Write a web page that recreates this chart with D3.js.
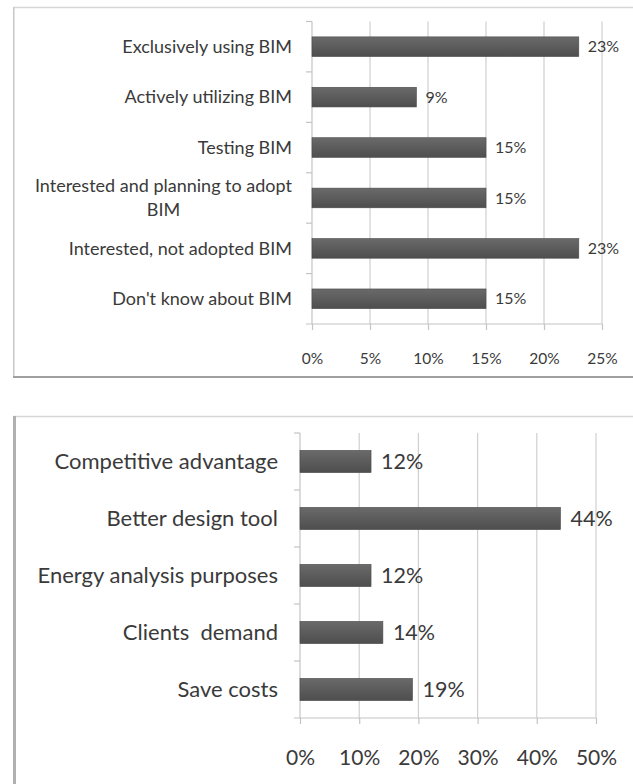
<!DOCTYPE html>
<html>
<head>
<meta charset="utf-8">
<script src="https://cdn.jsdelivr.net/npm/d3@7"></script>
<style>
  html, body { margin: 0; padding: 0; background: #fff; }
  svg { display: block; }
  text { font-family: Lato, "Open Sans", sans-serif; fill: #3a3a3a; white-space: pre; }
</style>
</head>
<body>
<svg id="chart" width="633" height="784"></svg>
<script>
// ---------- DATA ----------
const topCategories = [
  "Exclusively using BIM",
  "Actively utilizing BIM",
  "Testing BIM",
  "Interested and planning to adopt\nBIM",
  "Interested, not adopted BIM",
  "Don't know about BIM"
];
const topValues = [23, 9, 15, 15, 23, 15];
const topTicks = [0, 5, 10, 15, 20, 25];

const bottomCategories = [
  "Competitive advantage",
  "Better design tool",
  "Energy analysis purposes",
  "Clients  demand",
  "Save costs"
];
const bottomValues = [12, 44, 12, 14, 19];
const bottomTicks = [0, 10, 20, 30, 40, 50];

// ---------- SETUP ----------
const svg = d3.select("#chart");
const defs = svg.append("defs");
const grad = defs.append("linearGradient").attr("id", "barGrad")
  .attr("x1", 0).attr("y1", 0).attr("x2", 0).attr("y2", 1);
grad.append("stop").attr("offset", "0%").attr("stop-color", "#6a6a6a");
grad.append("stop").attr("offset", "50%").attr("stop-color", "#5c5c5c");
grad.append("stop").attr("offset", "100%").attr("stop-color", "#4e4e4e");

// Frames
function frame(y0, y1, leftW, leftColor, bottomColor) {
  const g = svg.append("g");
  g.append("line").attr("x1", 13).attr("x2", 633).attr("y1", y0 + 0.5).attr("y2", y0 + 0.5)
    .attr("stroke", "#d6d6d6").attr("stroke-width", 1.5);
  g.append("line").attr("x1", 13 + leftW / 2).attr("x2", 13 + leftW / 2).attr("y1", y0).attr("y2", y1)
    .attr("stroke", leftColor).attr("stroke-width", leftW);
  if (bottomColor) {
    g.append("line").attr("x1", 13).attr("x2", 633).attr("y1", y1).attr("y2", y1)
      .attr("stroke", bottomColor).attr("stroke-width", 2);
  }
}
frame(7, 377, 1.5, "#c8c8c8", "#a0a0a0");
frame(416, 784, 3, "#b0b0b0", null);

function drawChart(opts) {
  const { cats, vals, ticks, xRange, yRange, labelEnd, catFont, tickFont, valFont,
          tickLabelY, valGap, lineGap } = opts;
  const x = d3.scaleLinear().domain([ticks[0], ticks[ticks.length - 1]]).range(xRange);
  const y = d3.scaleBand().domain(cats).range(yRange).paddingInner(0.61).paddingOuter(0.305);
  const g = svg.append("g");
  const x0 = x(0);
  const yTop = yRange[0], yBot = yRange[1];

  // gridlines
  g.selectAll(".grid").data(ticks.slice(1)).enter().append("line")
    .attr("x1", d => x(d)).attr("x2", d => x(d))
    .attr("y1", yTop).attr("y2", yBot)
    .attr("stroke", "#cfcfcf").attr("stroke-width", 1.2);

  // bottom axis via d3.axisBottom
  const axis = d3.axisBottom(x).tickValues(ticks).tickSize(6).tickPadding(0)
    .tickFormat(d => d + "%");
  const ax = g.append("g").attr("transform", `translate(0,${yBot})`).call(axis);
  ax.select(".domain").attr("stroke", "#c4c4c4").attr("stroke-width", 1.2)
    .attr("d", `M${x0 - 6},0H${xRange[1]}`);
  ax.selectAll(".tick line").attr("stroke", "#c4c4c4").attr("stroke-width", 1.2);
  ax.selectAll(".tick text").attr("y", tickLabelY - yBot).attr("dy", "0.35em")
    .style("font-size", tickFont + "px").style("fill", "#3a3a3a")
    .style("font-family", "Lato, 'Open Sans', sans-serif");

  // vertical category axis
  g.append("line").attr("x1", x0).attr("x2", x0).attr("y1", yTop).attr("y2", yBot)
    .attr("stroke", "#c4c4c4").attr("stroke-width", 1.2);
  const bounds = d3.range(cats.length).map(i => yTop + i * y.step());
  g.selectAll(".ctick").data(bounds).enter().append("line")
    .attr("x1", x0 - 6).attr("x2", x0).attr("y1", d => d).attr("y2", d => d)
    .attr("stroke", "#c4c4c4").attr("stroke-width", 1.2);

  // bars
  g.selectAll(".bar").data(cats).enter().append("rect")
    .attr("x", x0).attr("y", d => y(d))
    .attr("width", (d, i) => x(vals[i]) - x0)
    .attr("height", y.bandwidth())
    .attr("fill", "url(#barGrad)")
    .attr("stroke", "#4a4a4a").attr("stroke-width", 0.6);

  // value labels
  g.selectAll(".val").data(cats).enter().append("text")
    .attr("x", (d, i) => x(vals[i]) + valGap)
    .attr("y", d => y(d) + y.bandwidth() / 2).attr("dy", "0.35em")
    .style("font-size", valFont + "px")
    .text((d, i) => vals[i] + "%");

  // category labels
  cats.forEach(c => {
    const lines = c.split("\n");
    const cy = y(c) + y.bandwidth() / 2;
    if (lines.length === 1) {
      g.append("text").attr("x", labelEnd).attr("y", cy).attr("dy", "0.35em")
        .attr("text-anchor", "end").style("font-size", catFont + "px").text(c);
    } else {
      const t1 = g.append("text").attr("x", labelEnd).attr("y", cy - lineGap / 2).attr("dy", "0.35em")
        .attr("text-anchor", "end").style("font-size", catFont + "px").text(lines[0]);
      const w = t1.node().getComputedTextLength();
      g.append("text").attr("x", labelEnd - w / 2).attr("y", cy + lineGap / 2).attr("dy", "0.35em")
        .attr("text-anchor", "middle").style("font-size", catFont + "px").text(lines[1]);
    }
  });
}

drawChart({
  cats: topCategories, vals: topValues, ticks: topTicks,
  xRange: [312, 602], yRange: [21.5, 324], labelEnd: 292,
  catFont: 18, tickFont: 15.5, valFont: 16, tickLabelY: 359, valGap: 9, lineGap: 24
});

drawChart({
  cats: bottomCategories, vals: bottomValues, ticks: bottomTicks,
  xRange: [300, 596], yRange: [433, 718], labelEnd: 278,
  catFont: 22, tickFont: 21, valFont: 21.5, tickLabelY: 758, valGap: 10, lineGap: 24
});
</script>
</body>
</html>
